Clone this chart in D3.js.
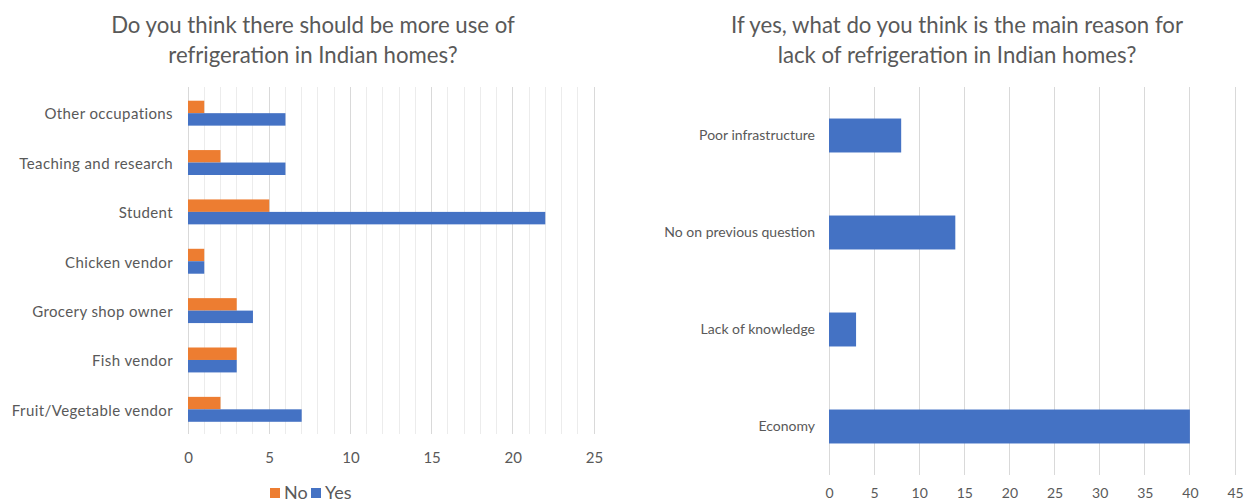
<!DOCTYPE html>
<html>
<head>
<meta charset="utf-8">
<script src="https://cdn.jsdelivr.net/npm/d3@7"></script>
<style>
  html, body { margin: 0; padding: 0; background: #fff; }
  svg { display: block; }
  text { font-family: Lato, "Open Sans", sans-serif; fill: #595959; }
</style>
</head>
<body>
<svg id="chart" width="1246" height="502"></svg>
<script>
// Survey responses by occupation
const occupations = [
  "Other occupations",
  "Teaching and research",
  "Student",
  "Chicken vendor",
  "Grocery shop owner",
  "Fish vendor",
  "Fruit/Vegetable vendor"
];
const noCounts  = [1, 2, 5, 1, 3, 3, 2];
const yesCounts = [6, 6, 22, 1, 4, 3, 7];
const seriesNames = ["No", "Yes"];
const seriesColors = ["#ED7D31", "#4472C4"];
const leftTicks = [0, 5, 10, 15, 20, 25];

// Main reasons for lack of refrigeration
const reasons = [
  "Poor infrastructure",
  "No on previous question",
  "Lack of knowledge",
  "Economy"
];
const reasonCounts = [8, 14, 3, 40];
const rightTicks = [0, 5, 10, 15, 20, 25, 30, 35, 40, 45];

const svg = d3.select("#chart");

// ---------- left panel ----------
const L = { x0: 188, x1: 594, y0: 88.5, y1: 434 };
const xL = d3.scaleLinear().domain([0, 25]).range([L.x0, L.x1]);
const yL = d3.scaleBand().domain(occupations).range([L.y0, L.y1])
  .paddingInner(0.495).paddingOuter(0.2475);
const sub = d3.scaleBand().domain(seriesNames).range([0, yL.bandwidth()]);

const left = svg.append("g");

// minor gridlines every unit, heavier ones every five
left.append("g").selectAll("line")
  .data(xL.ticks(25))
  .join("line")
  .attr("x1", d => xL(d)).attr("x2", d => xL(d))
  .attr("y1", 87).attr("y2", L.y1)
  .attr("stroke", d => d % 5 === 0 ? "#d9d9d9" : "#ececec")
  .attr("stroke-width", 1)
  .attr("shape-rendering", "crispEdges");

const rowsL = occupations.map((c, i) => ({ cat: c, vals: [noCounts[i], yesCounts[i]] }));
left.append("g").selectAll("g")
  .data(rowsL)
  .join("g")
  .attr("transform", d => `translate(0,${yL(d.cat)})`)
  .selectAll("rect")
  .data(d => d.vals.map((v, j) => ({ v, s: seriesNames[j], c: seriesColors[j] })))
  .join("rect")
  .attr("x", xL(0))
  .attr("y", d => sub(d.s))
  .attr("width", d => xL(d.v) - xL(0))
  .attr("height", sub.bandwidth())
  .attr("fill", d => d.c);

// category labels
left.append("g")
  .attr("transform", `translate(${L.x0 - 15},1.5)`)
  .call(d3.axisLeft(yL).tickSize(0).tickPadding(0))
  .call(g => g.select(".domain").remove())
  .call(g => g.selectAll("text")
    .attr("font-family", "Lato, sans-serif")
    .attr("font-size", 15)
    .attr("letter-spacing", "0.4px")
    .attr("fill", "#595959"));

// value axis labels
left.append("g")
  .attr("transform", `translate(0,${L.y1 + 18})`)
  .call(d3.axisBottom(xL).tickValues(leftTicks).tickSize(0).tickPadding(0))
  .call(g => g.select(".domain").remove())
  .call(g => g.selectAll("text")
    .attr("font-family", "Lato, sans-serif")
    .attr("font-size", 15)
    .attr("fill", "#595959"));

// legend
const legend = left.append("g").attr("transform", "translate(270,493)");
const legendX = [0, 41];
legend.selectAll("g")
  .data(seriesNames)
  .join("g")
  .attr("transform", (d, i) => `translate(${legendX[i]},0)`)
  .call(g => g.append("rect")
    .attr("x", 0).attr("y", -5).attr("width", 10).attr("height", 10)
    .attr("fill", (d, i) => seriesColors[i]))
  .call(g => g.append("text")
    .attr("x", 14).attr("y", 0).attr("dy", "0.36em")
    .attr("font-size", 18)
    .text(d => d));

// title
left.append("text")
  .attr("text-anchor", "middle")
  .attr("font-size", 22.2)
  .selectAll("tspan")
  .data(["Do you think there should be more use of", "refrigeration in Indian homes?"])
  .join("tspan")
  .attr("x", 313)
  .attr("y", (d, i) => 33 + i * 30)
  .text(d => d);

// ---------- right panel ----------
const R = { x0: 829, x1: 1235, y0: 87, y1: 475 };
const xR = d3.scaleLinear().domain([0, 45]).range([R.x0, R.x1]);
const yR = d3.scaleBand().domain(reasons).range([R.y0, R.y1])
  .paddingInner(0.65).paddingOuter(0.325);

const right = svg.append("g");

right.append("g").selectAll("line")
  .data(xR.ticks(9))
  .join("line")
  .attr("x1", d => xR(d)).attr("x2", d => xR(d))
  .attr("y1", R.y0).attr("y2", R.y1)
  .attr("stroke", "#d9d9d9")
  .attr("stroke-width", 1)
  .attr("shape-rendering", "crispEdges");

right.append("g").selectAll("rect")
  .data(reasons.map((r, i) => ({ r, v: reasonCounts[i] })))
  .join("rect")
  .attr("x", xR(0))
  .attr("y", d => yR(d.r))
  .attr("width", d => xR(d.v) - xR(0))
  .attr("height", yR.bandwidth())
  .attr("fill", "#4472C4");

right.append("g")
  .attr("transform", `translate(${R.x0 - 14},0)`)
  .call(d3.axisLeft(yR).tickSize(0).tickPadding(0))
  .call(g => g.select(".domain").remove())
  .call(g => g.selectAll("text")
    .attr("font-family", "Lato, sans-serif")
    .attr("font-size", 14)
    .attr("fill", "#595959"));

right.append("g")
  .attr("transform", `translate(0,${R.y1 + 13})`)
  .call(d3.axisBottom(xR).tickValues(rightTicks).tickSize(0).tickPadding(0))
  .call(g => g.select(".domain").remove())
  .call(g => g.selectAll("text")
    .attr("font-family", "Lato, sans-serif")
    .attr("font-size", 14)
    .attr("fill", "#595959"));

right.append("text")
  .attr("text-anchor", "middle")
  .attr("font-size", 22.2)
  .selectAll("tspan")
  .data(["If yes, what do you think is the main reason for", "lack of refrigeration in Indian homes?"])
  .join("tspan")
  .attr("x", 957)
  .attr("y", (d, i) => 33 + i * 30)
  .text(d => d);
</script>
</body>
</html>
